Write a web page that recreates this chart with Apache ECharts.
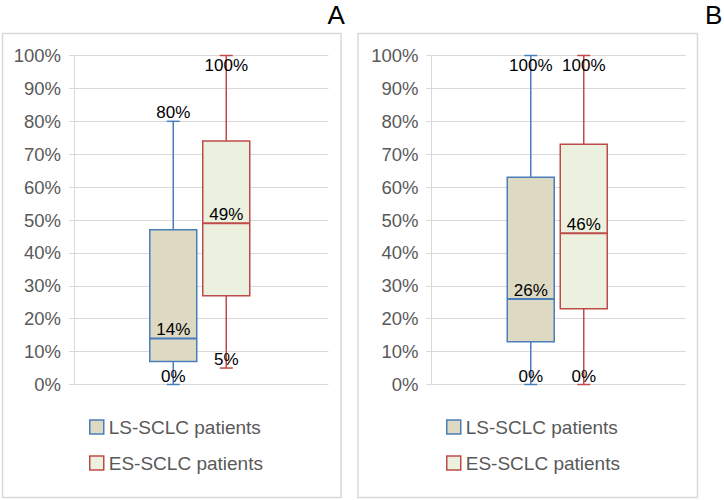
<!DOCTYPE html>
<html>
<head>
<meta charset="utf-8">
<script src="https://cdn.jsdelivr.net/npm/echarts@6/dist/echarts.min.js"></script>
<style>
html,body{margin:0;padding:0;background:#fff;}
#chart{width:724px;height:500px;}
</style>
</head>
<body>
<div id="chart"></div>
<script>
// ---- data ----
const seriesNames = ['LS-SCLC patients', 'ES-SCLC patients'];
const panelLabels = ['A', 'B'];
// box statistics in %: [min, Q1, median, Q3, max]
const panelA_LS = [0, 7, 14, 47, 80];
const panelA_ES = [5, 27, 49, 74, 100];
const panelB_LS = [0, 13, 26, 63, 100];
const panelB_ES = [0, 23, 46, 73, 100];
const yTickLabels = ['0%', '10%', '20%', '30%', '40%', '50%', '60%', '70%', '80%', '90%', '100%'];

// ---- styles ----
const FONT = "'Liberation Sans', Arial, sans-serif";
const styles = [
  { fill: '#DDD9C3', stroke: '#4A7EBB', offset: -28 },
  { fill: '#EBF1DE', stroke: '#BE4B48', offset: 25 }
];
const GRID_COLOR = '#D9D9D9';

function makeRenderer(st) {
  return function (params, api) {
    const cs = params.coordSys;
    const xc = api.coord([api.value(0), 0])[0] + st.offset;
    const y = v => api.coord([api.value(0), v])[1];
    const vmin = api.value(1), q1 = api.value(2), med = api.value(3), q3 = api.value(4), vmax = api.value(5);
    const hw = 23.5, cw = 6.5;
    const ls = { stroke: st.stroke, lineWidth: 1.5 };
    const labelY = v => {
      const yy = y(v) - 8.5;
      return (yy - 8 < cs.y) ? y(v) + 10 : yy;
    };
    const txt = v => ({
      type: 'text', x: xc, y: labelY(v), z2: 10,
      style: { text: Math.round(v) + '%', fill: '#000', fontSize: 17, fontFamily: FONT, align: 'center', verticalAlign: 'middle' }
    });
    return {
      type: 'group',
      children: [
        { type: 'line', shape: { x1: xc, y1: y(q3), x2: xc, y2: y(vmax) }, style: ls },
        { type: 'line', shape: { x1: xc - cw, y1: y(vmax), x2: xc + cw, y2: y(vmax) }, style: ls },
        { type: 'line', shape: { x1: xc, y1: y(q1), x2: xc, y2: y(vmin) }, style: ls },
        { type: 'line', shape: { x1: xc - cw, y1: y(vmin), x2: xc + cw, y2: y(vmin) }, style: ls },
        { type: 'rect', shape: { x: xc - hw, y: y(q3), width: 2 * hw, height: y(q1) - y(q3) },
          style: { fill: st.fill, stroke: st.stroke, lineWidth: 1.5 } },
        { type: 'line', shape: { x1: xc - hw, y1: y(med), x2: xc + hw, y2: y(med) }, style: { stroke: st.stroke, lineWidth: 2 } },
        txt(vmax), txt(med), txt(vmin)
      ]
    };
  };
}

const grids = [
  { left: 74, top: 55.5, width: 254.5, height: 329 },
  { left: 431.5, top: 55.5, width: 254.5, height: 329 }
];

const xAxes = grids.map((g, i) => ({
  type: 'category', gridIndex: i, data: [''], show: false
}));
const yAxes = grids.map((g, i) => ({
  type: 'value', gridIndex: i, min: 0, max: 100, interval: 10,
  axisLine: { show: true, lineStyle: { color: GRID_COLOR, width: 1 } },
  axisTick: { show: true, length: 5, lineStyle: { color: GRID_COLOR } },
  splitLine: { show: true, lineStyle: { color: GRID_COLOR, width: 1 } },
  axisLabel: { color: '#595959', fontSize: 18.5, fontFamily: FONT, margin: 13,
    formatter: v => yTickLabels[Math.round(v / 10)] }
}));

const panels = [[panelA_LS, panelA_ES], [panelB_LS, panelB_ES]];
const series = [];
panels.forEach((pair, pi) => {
  pair.forEach((stats, si) => {
    series.push({
      type: 'custom', name: seriesNames[si], xAxisIndex: pi, yAxisIndex: pi,
      renderItem: makeRenderer(styles[si]),
      itemStyle: { color: styles[si].fill, borderColor: styles[si].stroke, borderWidth: 1.5 },
      encode: { x: 0, y: [1, 2, 3, 4, 5] },
      data: [[0].concat(stats)],
      clip: false, silent: true
    });
  });
});

const legendLefts = [84, 441];
const legends = legendLefts.map(l => ({
  orient: 'vertical', left: l, top: 412.5, itemWidth: 14, itemHeight: 14, itemGap: 17,
  selectedMode: false, icon: 'rect',
  textStyle: { color: '#595959', fontSize: 19, fontFamily: FONT },
  data: seriesNames.map((n, si) => ({
    name: n, itemStyle: { color: styles[si].fill, borderColor: styles[si].stroke, borderWidth: 1.5 }
  }))
}));

const frames = [
  { x: 2.5, y: 33.5, w: 338.5, h: 464 },
  { x: 358, y: 33.5, w: 339.5, h: 464 }
];
const letterPos = [{ x: 327.5, y: 14.5 }, { x: 705, y: 14.5 }];
const graphics = [];
frames.forEach(f => graphics.push({
  type: 'rect', shape: { x: f.x, y: f.y, width: f.w, height: f.h }, z: -1,
  style: { fill: 'none', stroke: GRID_COLOR, lineWidth: 1.5 }, silent: true
}));
panelLabels.forEach((t, i) => graphics.push({
  type: 'text', x: letterPos[i].x, y: letterPos[i].y,
  style: { text: t, fill: '#000', fontSize: 26, fontFamily: FONT, align: 'left', verticalAlign: 'middle' }
}));

const chart = echarts.init(document.getElementById('chart'), null, { renderer: 'svg' });
chart.setOption({
  animation: false,
  backgroundColor: '#fff',
  grid: grids,
  xAxis: xAxes,
  yAxis: yAxes,
  legend: legends,
  graphic: graphics,
  series: series
});
</script>
</body>
</html>
